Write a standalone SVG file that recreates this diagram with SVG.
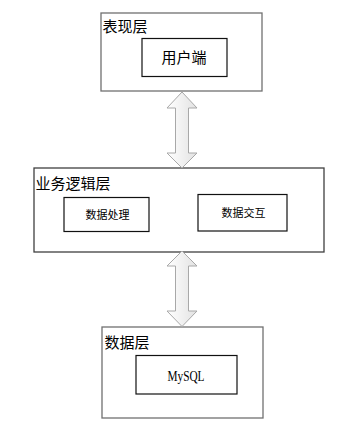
<svg xmlns="http://www.w3.org/2000/svg" width="353" height="431" viewBox="0 0 353 431">
<style>
.outer{fill:#fff;stroke:#707070;stroke-width:1.3}
.mid{fill:#fff;stroke:#404040;stroke-width:1.3}
.inner{fill:#fff;stroke:#111;stroke-width:1.2}
.t{font-family:"Noto Sans CJK SC","Noto Sans",sans-serif;fill:#000}
.title{font-size:15px}
.lbl{font-size:15px;text-anchor:middle}
.sm{font-size:11px;text-anchor:middle}
.ser{font-family:"Liberation Serif",serif;font-size:14px;fill:#000}
.arr{fill:url(#g);stroke:#a8a8a8;stroke-width:1}
</style>
<defs>
<linearGradient id="g" x1="0" y1="0" x2="1" y2="0">
<stop offset="0" stop-color="#ffffff"/>
<stop offset="1" stop-color="#e2e2e2"/>
</linearGradient>
</defs>
<rect width="353" height="431" fill="#fff"/>
<g id="presentation">
<rect class="outer" x="101" y="13" width="161" height="78"/>
<text class="t title" x="102.5" y="32">表现层</text>
</g>
<g id="client">
<rect class="inner" x="142" y="38.5" width="85" height="38"/>
<text class="t lbl" x="184" y="63">用户端</text>
</g>
<g id="business">
<rect class="mid" x="34" y="168" width="290" height="84"/>
<text class="t title" x="35.5" y="189">业务逻辑层</text>
</g>
<g id="process">
<rect class="inner" x="64" y="197.5" width="85" height="34"/>
<text class="t sm" x="107.5" y="218.5">数据处理</text>
</g>
<g id="interact">
<rect class="inner" x="198" y="194.5" width="89" height="36.5"/>
<text class="t sm" x="243.5" y="216.5">数据交互</text>
</g>
<g id="data">
<rect class="outer" x="102" y="327" width="161" height="91"/>
<text class="t title" x="104.5" y="347.5">数据层</text>
</g>
<g id="mysql">
<rect class="inner" x="136" y="355.5" width="101" height="38.5"/>
<text class="ser" x="167.5" y="381" textLength="37" lengthAdjust="spacingAndGlyphs">MySQL</text>
</g>
<g id="connectors">
<polygon class="arr" points="182,92 197,108 188.5,108 188.5,153 197,153 182,168 167,153 175.5,153 175.5,108 167,108"/>
<polygon class="arr" points="182,251 197,266 188.5,266 188.5,311 197,311 182,326.5 167,311 175.5,311 175.5,266 167,266"/>
</g>
</svg>
